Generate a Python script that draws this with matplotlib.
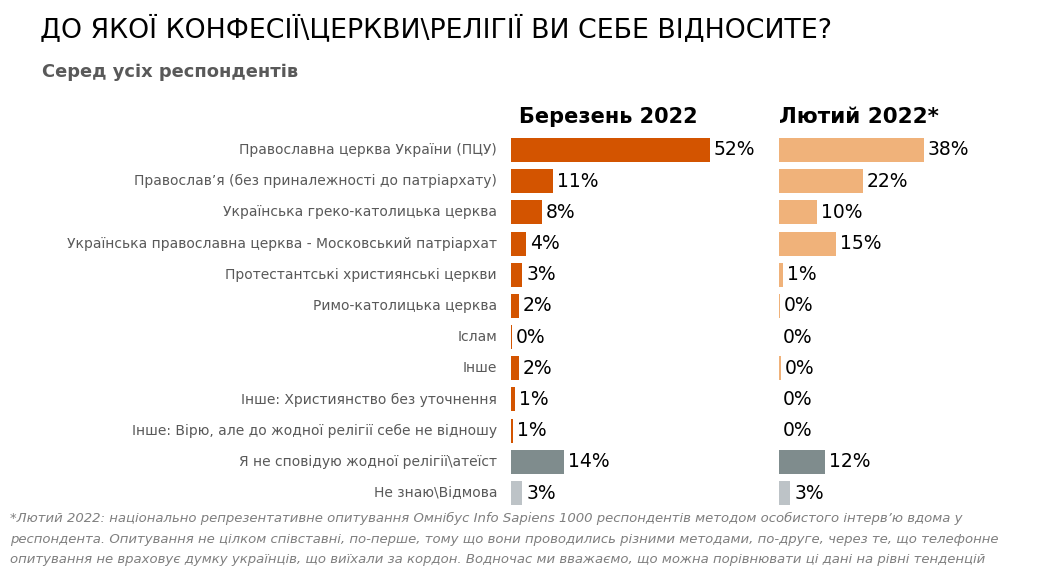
import matplotlib
matplotlib.use("Agg")
import matplotlib.pyplot as plt
import numpy as np

plt.rcParams['font.family'] = ['DejaVu Sans']

categories = [
    "Православна церква України (ПЦУ)",
    "Православ’я (без приналежності до патріархату)",
    "Українська греко-католицька церква",
    "Українська православна церква - Московський патріархат",
    "Протестантські християнські церкви",
    "Римо-католицька церква",
    "Іслам",
    "Інше",
    "Інше: Християнство без уточнення",
    "Інше: Вірю, але до жодної релігії себе не відношу",
    "Я не сповідую жодної релігії\\атеїст",
    "Не знаю\\Відмова",
]
march_2022 = [52, 11, 8, 4, 3, 2, 0.2, 2, 1, 0.6, 14, 3]
feb_2022 = [38, 22, 10, 15, 1, 0.3, 0, 0.4, 0, 0, 12, 3]
march_labels = ["52%", "11%", "8%", "4%", "3%", "2%", "0%", "2%", "1%", "1%", "14%", "3%"]
feb_labels = ["38%", "22%", "10%", "15%", "1%", "0%", "0%", "0%", "0%", "0%", "12%", "3%"]

headers = ["Березень 2022", "Лютий 2022*"]
title = "ДО ЯКОЇ КОНФЕСІЇ\\ЦЕРКВИ\\РЕЛІГІЇ ВИ СЕБЕ ВІДНОСИТЕ?"
subtitle = "Серед усіх респондентів"
footnote = ("*Лютий 2022: національно репрезентативне опитування Омнібус Info Sapiens 1000 респондентів методом особистого інтерв’ю вдома у\n"
            "респондента. Опитування не цілком співставні, по-перше, тому що вони проводились різними методами, по-друге, через те, що телефонне\n"
            "опитування не враховує думку українців, що виїхали за кордон. Водночас ми вважаємо, що можна порівнювати ці дані на рівні тенденцій")

W, H = 1046, 573
fig = plt.figure(figsize=(W / 100, H / 100), dpi=100)

def fx(px):
    return px / W

def fy(py):
    return 1 - py / H

n = len(categories)
row_top = 134.4
row_bot = 508.6
ax_w_px = 250
xmax = ax_w_px / 3.82

march_colors = ["#D35400"] * 10 + ["#7F8C8D", "#BDC3C7"]
feb_colors = ["#F0B27A"] * 10 + ["#7F8C8D", "#BDC3C7"]

def make_ax(x0px, values, labels, colors):
    ax = fig.add_axes([fx(x0px), fy(row_bot), ax_w_px / W, (row_bot - row_top) / H])
    y = np.arange(n)
    ax.barh(y, values, height=0.77, color=colors, edgecolor='none')
    for yi, v, lab in zip(y, values, labels):
        ax.text(v + 1.0, yi, lab, va='center', ha='left', fontsize=13.5, color='black')
    ax.set_xlim(0, xmax)
    ax.set_ylim(n - 0.5, -0.5)
    ax.axis('off')
    return ax

ax1 = make_ax(511, march_2022, march_labels, march_colors)
ax2 = make_ax(779, feb_2022, feb_labels, feb_colors)

for yi, cat in enumerate(categories):
    ax1.text(-0.056, yi, cat, transform=ax1.get_yaxis_transform(), ha='right', va='center',
             fontsize=10, color='#595959')

fig.text(fx(40), fy(30), title, fontsize=19.3, ha='left', va='center', color='black')
fig.text(fx(42), fy(72), subtitle, fontsize=12.9, fontweight='bold', ha='left', va='center', color='#595959')
fig.text(fx(519), fy(117), headers[0], fontsize=15, fontweight='bold', ha='left', va='center', color='black')
fig.text(fx(779), fy(117), headers[1], fontsize=15.5, fontweight='bold', ha='left', va='center', color='black')
fig.text(fx(10), fy(512), footnote, fontsize=9.5, style='italic', ha='left', va='top', color='#7F7F7F',
         linespacing=1.75)

fig.savefig("out.png", dpi=100)
